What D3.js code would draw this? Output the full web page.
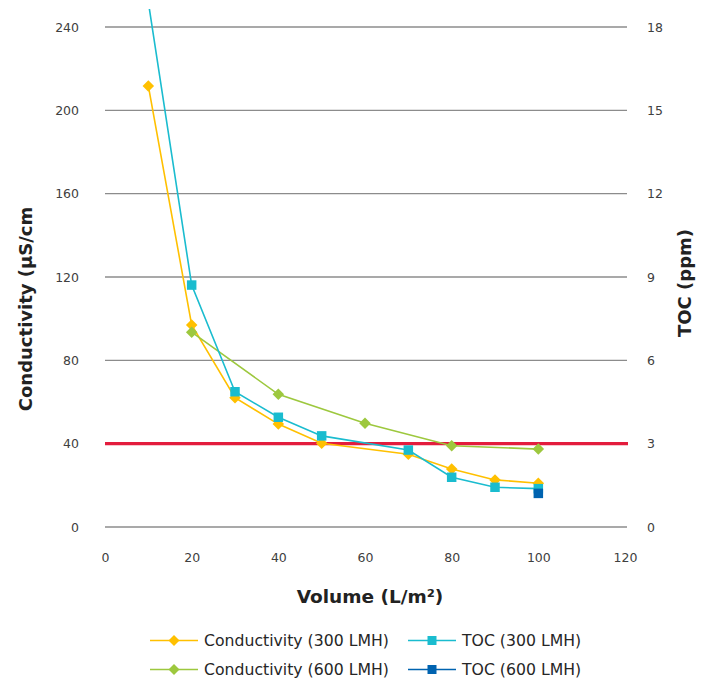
<!DOCTYPE html>
<html>
<head>
<meta charset="utf-8">
<script src="https://cdn.jsdelivr.net/npm/d3@7/dist/d3.min.js"></script>
<style>
  html, body { margin: 0; padding: 0; background: #fff; }
  svg { display: block; font-family: "DejaVu Sans", Verdana, sans-serif; }
</style>
</head>
<body>
<svg id="chart" width="708" height="681"></svg>
<script>
// Volume (L/m²) sampled for each series
const condVol300 = [10, 20, 30, 40, 50, 70, 80, 90, 100];
const condVol600 = [20, 40, 60, 80, 100];
const tocVol300  = [10, 20, 30, 40, 50, 70, 80, 90, 100];
const tocVol600  = [100];

// Conductivity (µS/cm)
const cond300 = [211.7, 97.0, 62.1, 49.4, 40.2, 34.9, 27.8, 22.6, 21.0];
const cond600 = [93.5, 63.7, 49.8, 39.0, 37.4];

// TOC (ppm)
const toc300 = [18.9, 8.71, 4.87, 3.95, 3.28, 2.77, 1.79, 1.43, 1.38];
const toc600 = [1.21];

// Conductivity limit line
const condLimit = 40;

// Tick labels
const volumeTicks = [0, 20, 40, 60, 80, 100, 120];
const condTicks = [0, 40, 80, 120, 160, 200, 240];
const tocTicks = [0, 3, 6, 9, 12, 15, 18];

const series = [
  { name: "Conductivity (300 LMH)", xs: condVol300, ys: cond300, axis: "cond", color: "#ffc000", marker: "diamond" },
  { name: "Conductivity (600 LMH)", xs: condVol600, ys: cond600, axis: "cond", color: "#9dc83e", marker: "diamond" },
  { name: "TOC (300 LMH)",          xs: tocVol300,  ys: toc300,  axis: "toc",  color: "#1abccf", marker: "square" },
  { name: "TOC (600 LMH)",          xs: tocVol600,  ys: toc600,  axis: "toc",  color: "#0063b0", marker: "square" }
];

const svg = d3.select("#chart");
const plotLeft = 105, plotRight = 625, plotTop = 27, plotBottom = 527;
const gridRight = 627;

const x = d3.scaleLinear().domain([0, 120]).range([plotLeft, plotRight]);
const yCond = d3.scaleLinear().domain([0, 240]).range([plotBottom, plotTop]);
const yToc = d3.scaleLinear().domain([0, 18]).range([plotBottom, plotTop]);

// Horizontal gridlines
svg.append("g")
  .selectAll("line")
  .data(condTicks)
  .join("line")
  .attr("x1", plotLeft).attr("x2", gridRight)
  .attr("y1", d => yCond(d)).attr("y2", d => yCond(d))
  .attr("stroke", "#8c8c8c")
  .attr("stroke-width", 1.3);

// Axes (labels only)
function styleAxis(g) {
  g.select(".domain").remove();
  g.selectAll(".tick line").remove();
  g.selectAll("text")
    .attr("fill", "#404040")
    .style("font-size", "12.5px")
    .style("font-family", "'DejaVu Sans', Verdana, sans-serif");
}

svg.append("g")
  .attr("transform", `translate(${plotLeft},0)`)
  .call(d3.axisLeft(yCond).tickValues(condTicks).tickSize(0).tickPadding(26))
  .call(styleAxis);

svg.append("g")
  .attr("transform", `translate(${gridRight},0)`)
  .call(d3.axisRight(yToc).tickValues(tocTicks).tickSize(0).tickPadding(20))
  .call(styleAxis);

svg.append("g")
  .attr("transform", `translate(0,${plotBottom})`)
  .call(d3.axisBottom(x).tickValues(volumeTicks).tickSize(0).tickPadding(26))
  .call(styleAxis);

// Axis titles
svg.append("text")
  .attr("transform", `translate(32,${(plotTop + plotBottom) / 2 + 32}) rotate(-90)`)
  .attr("text-anchor", "middle")
  .attr("fill", "#222")
  .style("font-size", "18px")
  .style("font-weight", "bold")
  .text("Conductivity (µS/cm");

svg.append("text")
  .attr("transform", `translate(691,283) rotate(-90)`)
  .attr("text-anchor", "middle")
  .attr("fill", "#222")
  .style("font-size", "18px")
  .style("font-weight", "bold")
  .text("TOC (ppm)");

svg.append("text")
  .attr("x", 370)
  .attr("y", 603)
  .attr("text-anchor", "middle")
  .attr("fill", "#222")
  .style("font-size", "18.5px")
  .style("font-weight", "bold")
  .text("Volume (L/m²)");

// Plot clip (lines running past the top are cut off)
svg.append("defs").append("clipPath").attr("id", "plotClip")
  .append("rect").attr("x", 0).attr("y", 9).attr("width", 708).attr("height", 600);

const plot = svg.append("g").attr("clip-path", "url(#plotClip)");

// Limit line
plot.append("line")
  .attr("x1", plotLeft).attr("x2", gridRight + 1)
  .attr("y1", yCond(condLimit)).attr("y2", yCond(condLimit))
  .attr("stroke", "#e31c3d")
  .attr("stroke-width", 3.2);

function markerPath(type, size) {
  const h = size / 2;
  if (type === "diamond") return `M0,${-h}L${h},0L0,${h}L${-h},0Z`;
  return `M${-h},${-h}H${h}V${h}H${-h}Z`;
}

series.forEach(s => {
  const yScale = s.axis === "cond" ? yCond : yToc;
  const pts = s.xs.map((v, i) => [x(v), yScale(s.ys[i])]);
  const g = plot.append("g");
  g.append("path")
    .attr("d", d3.line()(pts))
    .attr("fill", "none")
    .attr("stroke", s.color)
    .attr("stroke-width", 1.6);
  g.selectAll("path.m")
    .data(pts)
    .join("path")
    .attr("class", "m")
    .attr("transform", d => `translate(${d[0]},${d[1]})`)
    .attr("d", markerPath(s.marker, s.marker === "diamond" ? 11.5 : 9.5))
    .attr("fill", s.color);
});

// Legend
const legendPos = [
  { lx: 150, ty: 640.5 }, { lx: 150, ty: 669.5 },
  { lx: 408, ty: 640.5 }, { lx: 408, ty: 669.5 }
];
const legend = svg.append("g");
series.forEach((s, k) => {
  const p = legendPos[k];
  const g = legend.append("g").attr("transform", `translate(${p.lx},${p.ty})`);
  g.append("line").attr("x1", 0).attr("x2", 48).attr("y1", 0).attr("y2", 0)
    .attr("stroke", s.color).attr("stroke-width", 1.6);
  g.append("path")
    .attr("transform", "translate(24,0)")
    .attr("d", markerPath(s.marker, s.marker === "diamond" ? 11 : 9))
    .attr("fill", s.color);
  g.append("text")
    .attr("x", 54)
    .attr("y", 0)
    .attr("dy", "0.36em")
    .attr("fill", "#262626")
    .style("font-size", "15.7px")
    .text(s.name);
});
</script>
</body>
</html>
